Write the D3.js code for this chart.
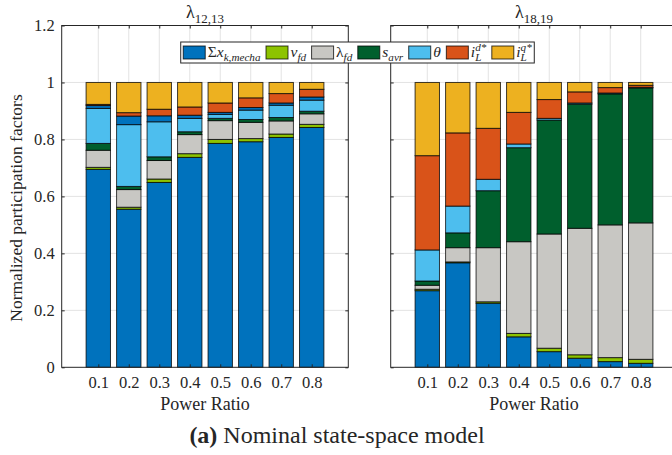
<!DOCTYPE html>
<html><head><meta charset="utf-8">
<script src="https://cdn.jsdelivr.net/npm/d3@7"></script>
<style>
body{margin:0;background:#fff}
svg{display:block}
text{fill:#262626}
</style>
</head><body>
<svg id="c" width="672" height="455"></svg>
<script>
// ---------------- data ----------------
const ratios = [0.1, 0.2, 0.3, 0.4, 0.5, 0.6, 0.7, 0.8];
const yTicks = [0, 0.2, 0.4, 0.6, 0.8, 1, 1.2];
const seriesKeys = ["sx", "vfd", "lfd", "savr", "theta", "other", "ild", "ilq"];
const seriesColors = ["#0072BD", "#8DC300", "#C8C7C3", "#005F2D", "#4DBEEE", "#0072BD", "#D95319", "#EDB120"];

// λ12,13
const A_sx    = [0.695, 0.555, 0.649, 0.737, 0.786, 0.792, 0.807, 0.842];
const A_vfd   = [0.007, 0.007, 0.012, 0.013, 0.014, 0.011, 0.012, 0.011];
const A_lfd   = [0.060, 0.062, 0.065, 0.067, 0.066, 0.057, 0.046, 0.037];
const A_savr  = [0.024, 0.011, 0.013, 0.010, 0.008, 0.010, 0.012, 0.009];
const A_theta = [0.123, 0.217, 0.123, 0.047, 0.014, 0.033, 0.043, 0.039];
const A_other = [0.010, 0.030, 0.021, 0.011, 0.007, 0.009, 0.008, 0.011];
const A_ild   = [0.004, 0.012, 0.023, 0.029, 0.033, 0.034, 0.033, 0.027];
const A_ilq   = [0.077, 0.106, 0.094, 0.086, 0.072, 0.054, 0.039, 0.024];

// λ18,19
const B_sx    = [0.269, 0.367, 0.225, 0.107, 0.055, 0.032, 0.020, 0.014];
const B_vfd   = [0.005, 0.003, 0.005, 0.012, 0.012, 0.012, 0.014, 0.014];
const B_lfd   = [0.014, 0.050, 0.190, 0.322, 0.401, 0.444, 0.466, 0.479];
const B_savr  = [0.015, 0.052, 0.200, 0.330, 0.400, 0.436, 0.460, 0.474];
const B_theta = [0.109, 0.094, 0.040, 0.013, 0.006, 0.004, 0.003, 0.002];
const B_other = [0, 0, 0, 0, 0, 0, 0, 0];
const B_ild   = [0.331, 0.257, 0.179, 0.111, 0.066, 0.039, 0.019, 0.007];
const B_ilq   = [0.257, 0.177, 0.161, 0.105, 0.060, 0.033, 0.018, 0.010];

function rows(arrs){
  return ratios.map((r,i)=>{const o={r}; seriesKeys.forEach((k,j)=>o[k]=arrs[j][i]); return o;});
}
const panelA = rows([A_sx,A_vfd,A_lfd,A_savr,A_theta,A_other,A_ild,A_ilq]);
const panelB = rows([B_sx,B_vfd,B_lfd,B_savr,B_theta,B_other,B_ild,B_ilq]);

// ---------------- font detection ----------------
const FONT = (function(){
  const cands = ["Latin Modern Roman","CMU Serif","Computer Modern","Liberation Serif","DejaVu Serif","Noto Serif","Tinos","Times New Roman","Times","FreeSerif","Nimbus Roman","TeX Gyre Termes","Noto Serif CJK SC","Noto Serif CJK JP"];
  const c = document.createElement("canvas").getContext("2d");
  const s = "Normalized participation factors 0.123";
  function w(f){c.font = "20px " + f; return c.measureText(s).width;}
  const wm = w("monospace"), ws = w("sans-serif");
  for(const n of cands){
    if(Math.abs(w(`"${n}", monospace`)-wm)>0.5 && Math.abs(w(`"${n}", sans-serif`)-ws)>0.5) return `"${n}", serif`;
  }
  return "serif";
})();
document.querySelector("style").textContent += `text{font-family:${FONT}}`;

// ---------------- layout ----------------
const svg = d3.select("#c");
const yTop = 25.5, yBot = 367.3;
const y = d3.scaleLinear().domain([0,1.2]).range([yBot,yTop]);
const panels = [
  {rows:panelA, x0:61.7, x1:348.3, sub:"12,13", showY:true},
  {rows:panelB, x0:390.7, x1:677.3, sub:"18,19", showY:false}
];
const stack = d3.stack().keys(seriesKeys);
const axisColor = "#262626";

// math label as one <text> made of tspans; returns width
function mathText(g, x, yb, parts, size){
  const sub = size*0.72;
  const t = g.append("text").attr("x",x).attr("y",yb).style("font-size",size+"px");
  let base = 0, prevW = 0, cx = 0, maxX = 0;
  parts.forEach(p=>{
    const fs = (!p.pos) ? size : sub;
    const shift = p.pos==="sub" ? size*0.28 : p.pos==="sup" ? -size*0.40 : 0;
    const ts = t.append("tspan").style("font-size",fs+"px").style("font-style",p.it?"italic":"normal")
      .attr("dy", shift - base).text(p.t);
    if(p.stack) ts.attr("dx", -prevW);
    base = shift;
    const w = ts.node().getComputedTextLength();
    if(p.stack){ cx = cx - prevW + w; } else { cx += w; }
    maxX = Math.max(maxX, cx);
    prevW = w;
  });
  return maxX;
}

panels.forEach(P=>{
  const x = d3.scaleLinear().domain([-0.02,0.92]).range([P.x0,P.x1]);
  const bw = x(0.08)-x(0);
  const g = svg.append("g");
  // grid
  g.append("g").selectAll("line").data(yTicks.slice(1,-1)).join("line")
    .attr("x1",P.x0).attr("x2",P.x1).attr("y1",d=>y(d)).attr("y2",d=>y(d))
    .attr("stroke","#e3e3e3").attr("stroke-width",1);
  g.append("g").selectAll("line").data(ratios).join("line")
    .attr("x1",d=>x(d)).attr("x2",d=>x(d)).attr("y1",yTop).attr("y2",yBot)
    .attr("stroke","#e3e3e3").attr("stroke-width",1);
  // bars
  const st = stack(P.rows);
  st.forEach((layer,li)=>{
    g.append("g").attr("fill",seriesColors[li])
      .selectAll("rect").data(layer.filter(d=>d[1]-d[0]>0)).join("rect")
      .attr("x",d=>x(d.data.r)-bw/2).attr("width",bw)
      .attr("y",d=>y(d[1])).attr("height",d=>y(d[0])-y(d[1]))
      .attr("stroke","#000").attr("stroke-opacity",0.75).attr("stroke-width",1);
  });
  // axes
  const ax = g.append("g").attr("transform",`translate(0,${yBot})`)
    .call(d3.axisBottom(x).tickValues(ratios).tickSize(-3).tickPadding(9).tickFormat(d3.format(".1f")));
  ax.select(".domain").remove();
  ax.attr("font-family",null);
  ax.selectAll("text").style("font-size","16.5px").attr("fill",axisColor);
  ax.selectAll("line").attr("stroke",axisColor);
  const axT = g.append("g").attr("transform",`translate(0,${yTop})`)
    .call(d3.axisTop(x).tickValues(ratios).tickSize(-3).tickFormat(""));
  axT.select(".domain").remove(); axT.selectAll("line").attr("stroke",axisColor);
  const ayL = g.append("g").attr("transform",`translate(${P.x0},0)`)
    .call(d3.axisLeft(y).tickValues(yTicks).tickSize(-3).tickPadding(7).tickFormat(d=>P.showY?d3.format("")(d):""));
  ayL.select(".domain").remove();
  ayL.attr("font-family",null);
  ayL.selectAll("text").style("font-size","16.5px").attr("fill",axisColor);
  ayL.selectAll("line").attr("stroke",axisColor);
  const ayR = g.append("g").attr("transform",`translate(${P.x1},0)`)
    .call(d3.axisRight(y).tickValues(yTicks).tickSize(-3).tickFormat(""));
  ayR.select(".domain").remove(); ayR.selectAll("line").attr("stroke",axisColor);
  g.append("rect").attr("x",P.x0).attr("y",yTop).attr("width",P.x1-P.x0).attr("height",yBot-yTop)
    .attr("fill","none").attr("stroke",axisColor).attr("stroke-width",1);
  // x label
  g.append("text").attr("x",(P.x0+P.x1)/2).attr("y",410)
    .attr("text-anchor","middle").style("font-size","18px").text("Power Ratio");
  // title
  const tg = g.append("g");
  const tw = mathText(tg, 0, 18, [{t:"λ"},{t:P.sub,pos:"sub"}], 18);
  tg.attr("transform",`translate(${(P.x0+P.x1)/2 - tw/2},0)`);
});

// y label
svg.append("text").attr("transform","translate(22,208) rotate(-90)")
  .attr("text-anchor","middle").style("font-size","17.5px").text("Normalized participation factors");

// caption
const cap = svg.append("text").attr("x",337).attr("y",443).attr("text-anchor","middle").style("font-size","24px");
cap.append("tspan").style("font-weight","bold").text("(a)");
cap.append("tspan").text(" Nominal state-space model");

// ---------------- legend ----------------
const legendLabels = [
  [{t:"Σ"},{t:"x",it:1},{t:"k,mecha",it:1,pos:"sub"}],
  [{t:"v",it:1},{t:"fd",it:1,pos:"sub"}],
  [{t:"λ"},{t:"fd",it:1,pos:"sub"}],
  [{t:"s",it:1},{t:"avr",it:1,pos:"sub"}],
  [{t:"θ",it:1}],
  [{t:"i",it:1},{t:"L",it:1,pos:"sub"},{t:"d*",it:1,pos:"sup",stack:1}],
  [{t:"i",it:1},{t:"L",it:1,pos:"sub"},{t:"q*",it:1,pos:"sup",stack:1}]
];
const legendColors = ["#0072BD", "#8DC300", "#C8C7C3", "#005F2D", "#4DBEEE", "#D95319", "#EDB120"];
const lg = svg.append("g");
const lbg = lg.append("rect");
let lx = 0;
const sw = 22, sh = 13, ly = 0;
legendLabels.forEach((parts,i)=>{
  lg.append("rect").attr("x",lx).attr("y",ly).attr("width",sw).attr("height",sh)
    .attr("fill",legendColors[i]).attr("stroke","#000").attr("stroke-opacity",0.75);
  const w = mathText(lg, lx+sw+2.5, ly+11, parts, 15.5);
  lx += sw + 2.5 + w + 5.5;
});
const lw = lx - 5.5;
const lxc = 357.5, lpad = 2.5;
lbg.attr("x",-lpad).attr("y",-4).attr("width",lw+2*lpad).attr("height",sh+8)
  .attr("fill","#fff").attr("stroke","#262626").attr("stroke-width",1);
lg.attr("transform",`translate(${lxc - lw/2},46)`);
</script>
</body></html>
